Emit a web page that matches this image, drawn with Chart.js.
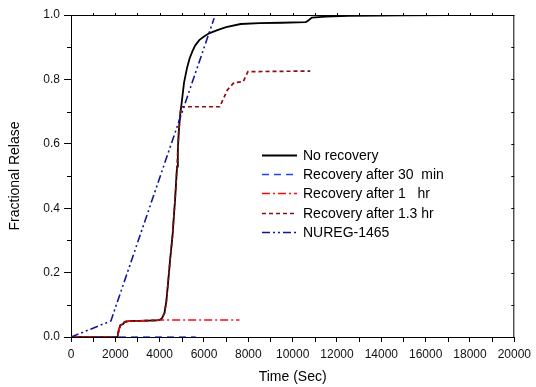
<!DOCTYPE html>
<html>
<head>
<meta charset="utf-8">
<script src="https://cdn.jsdelivr.net/npm/chart.js@4/dist/chart.umd.min.js"></script>
<style>
html,body{margin:0;padding:0;background:#fff;}
canvas{display:block;}
</style>
</head>
<body>
<canvas id="c" width="536" height="387"></canvas>
<script>
// ---- data ----
const seriesLabels = ["No recovery", "Recovery after 30  min", "Recovery after 1   hr", "Recovery after 1.3 hr", "NUREG-1465"];

const noRecTime = [0, 2100, 2150, 2230, 2350, 2420, 2600, 3000, 3500, 3900, 4000, 4100, 4215, 4300, 4363, 4420, 4470, 4530, 4589, 4640, 4694, 4740, 4783, 4820, 4858, 4900, 4933, 4970, 5008, 5100, 5233, 5350, 5471, 5600, 5785, 6000, 6233, 6600, 7000, 7654, 8500, 9500, 10580, 10650, 10870, 11500, 12500, 13856, 15000, 17100];
const noRecValue = [0, 0, 0.02, 0.037, 0.04, 0.047, 0.049, 0.05, 0.051, 0.052, 0.053, 0.058, 0.074, 0.11, 0.156, 0.2, 0.239, 0.28, 0.322, 0.375, 0.425, 0.478, 0.529, 0.58, 0.633, 0.67, 0.695, 0.715, 0.736, 0.79, 0.835, 0.865, 0.886, 0.905, 0.922, 0.933, 0.943, 0.953, 0.962, 0.972, 0.975, 0.976, 0.978, 0.98, 0.992, 0.995, 0.997, 0.998, 0.999, 1.0];

const rec30Time = [0, 5630];
const rec30Value = [0, 0];

const rec1Time = [0, 2100, 2150, 2230, 2350, 2420, 2600, 3000, 3500, 3900, 4000, 7600];
const rec1Value = [0, 0, 0.02, 0.037, 0.04, 0.047, 0.049, 0.05, 0.051, 0.052, 0.053, 0.053];

const rec13Time = [0, 2100, 2150, 2230, 2350, 2420, 2600, 3000, 3500, 3900, 4000, 4100, 4215, 4300, 4363, 4420, 4470, 4530, 4589, 4640, 4694, 4740, 4783, 4820, 4858, 4900, 4933, 4970, 6711, 7054, 7354, 7771, 7982, 10794];
const rec13Value = [0, 0, 0.02, 0.037, 0.04, 0.047, 0.049, 0.05, 0.051, 0.052, 0.053, 0.058, 0.074, 0.11, 0.156, 0.2, 0.239, 0.28, 0.322, 0.375, 0.425, 0.478, 0.529, 0.58, 0.633, 0.67, 0.695, 0.715, 0.715, 0.767, 0.79, 0.793, 0.824, 0.826];

const nuregTime = [0, 1800, 6457];
const nuregValue = [0, 0.05, 0.99];

const xTickValues = [0, 2000, 4000, 6000, 8000, 10000, 12000, 14000, 16000, 18000, 20000];
const yTickValues = [0.0, 0.2, 0.4, 0.6, 0.8, 1.0];

// ---- build chart ----
const pts = (t, v) => t.map((x, i) => ({x: x, y: v[i]}));
const FONT = "'Liberation Sans', Arial, sans-serif";

const datasets = [
  {label: seriesLabels[0], data: pts(noRecTime, noRecValue), borderColor: '#000000', borderWidth: 1.8, borderDash: [], order: 5},
  {label: seriesLabels[1], data: pts(rec30Time, rec30Value), borderColor: '#2244ff', borderWidth: 1.6, borderDash: [7, 5], order: 4},
  {label: seriesLabels[2], data: pts(rec1Time, rec1Value), borderColor: '#ff0a0a', borderWidth: 1.6, borderDash: [8, 3, 2, 3], order: 3},
  {label: seriesLabels[3], data: pts(rec13Time, rec13Value), borderColor: '#8b0f0f', borderWidth: 1.7, borderDash: [4, 3], order: 2},
  {label: seriesLabels[4], data: pts(nuregTime, nuregValue), borderColor: '#14149a', borderWidth: 1.6, borderDash: [8, 3, 2, 3, 2, 3], order: 1}
];
datasets.forEach(d => { d.pointRadius = 0; d.fill = false; d.tension = 0; });

const decor = {
  id: 'decor',
  afterDraw(chart) {
    const ctx = chart.ctx, a = chart.chartArea;
    const xs = chart.scales.x, ys = chart.scales.y;
    ctx.save();
    ctx.strokeStyle = '#000';
    ctx.lineWidth = 1;
    ctx.setLineDash([]);
    // frame top & right
    ctx.beginPath();
    ctx.moveTo(a.left, a.top + 0.5); ctx.lineTo(a.right, a.top + 0.5);
    ctx.moveTo(a.right - 0.5, a.top); ctx.lineTo(a.right - 0.5, a.bottom);
    ctx.stroke();
    // minor ticks
    ctx.beginPath();
    for (let t = 1000; t < 20000; t += 2000) {
      const px = Math.round(xs.getPixelForValue(t)) + 0.5;
      ctx.moveTo(px, a.bottom); ctx.lineTo(px, a.bottom + 5);
    }
    for (let t = 1000; t < 20000; t += 1000) {
      const px = Math.round(xs.getPixelForValue(t)) + 0.5;
      ctx.moveTo(px, a.top); ctx.lineTo(px, a.top - 2);
    }
    for (let v = 0.1; v < 1.0; v += 0.2) {
      const py = Math.round(ys.getPixelForValue(v)) + 0.5;
      ctx.moveTo(a.left, py); ctx.lineTo(a.left - 4, py);
    }
    for (let v = 0.1; v < 1.0; v += 0.1) {
      const py = Math.round(ys.getPixelForValue(v)) + 0.5;
      ctx.moveTo(a.right, py); ctx.lineTo(a.right - 3, py);
    }
    ctx.stroke();
    // legend
    const lx0 = 262, lx1 = 297, tx = 303, y0 = 155, dy = 19.2;
    ctx.font = '14px ' + FONT;
    ctx.textBaseline = 'middle';
    ctx.textAlign = 'left';
    chart.data.datasets.forEach((d, i) => {
      const y = Math.round(y0 + i * dy) + 0.5;
      ctx.strokeStyle = d.borderColor;
      ctx.lineWidth = d.borderWidth;
      ctx.setLineDash(d.borderDash);
      ctx.beginPath();
      ctx.moveTo(lx0, y); ctx.lineTo(lx1, y);
      ctx.stroke();
      ctx.setLineDash([]);
      ctx.fillStyle = '#000';
      ctx.fillText(d.label, tx, y + 1);
    });
    ctx.restore();
  }
};

new Chart(document.getElementById('c'), {
  type: 'line',
  data: {datasets: datasets},
  options: {
    responsive: false,
    animation: false,
    layout: {padding: {left: 0, top: 15, right: 19, bottom: 0}},
    plugins: {legend: {display: false}, tooltip: {enabled: false}},
    scales: {
      x: {
        type: 'linear', min: 0, max: 20000,
        afterBuildTicks(s) { s.ticks = xTickValues.map(v => ({value: v})); },
        afterFit(s) { s.height = 50; },
        ticks: {color: '#111', font: {family: FONT, size: 12}, padding: 5, maxRotation: 0, autoSkip: false, callback: v => String(v)},
        grid: {display: true, drawOnChartArea: false, drawTicks: true, tickLength: 5, color: '#000', tickColor: '#000'},
        border: {display: true, color: '#000', width: 1},
        title: {display: true, text: 'Time (Sec)', color: '#000', font: {family: FONT, size: 14}, padding: {top: 0, bottom: 1}}
      },
      y: {
        type: 'linear', min: 0, max: 1,
        afterBuildTicks(s) { s.ticks = yTickValues.map(v => ({value: v})); },
        afterFit(s) { s.width = 71; },
        ticks: {color: '#111', font: {family: FONT, size: 12}, padding: 4, autoSkip: false, callback: v => Number(v).toFixed(1)},
        grid: {display: true, drawOnChartArea: false, drawTicks: true, tickLength: 7, color: '#000', tickColor: '#000'},
        border: {display: true, color: '#000', width: 1},
        title: {display: true, text: 'Fractional Relase', color: '#000', font: {family: FONT, size: 14}, padding: {top: 6.5, bottom: 0}}
      }
    }
  },
  plugins: [decor]
});
</script>
</body>
</html>
